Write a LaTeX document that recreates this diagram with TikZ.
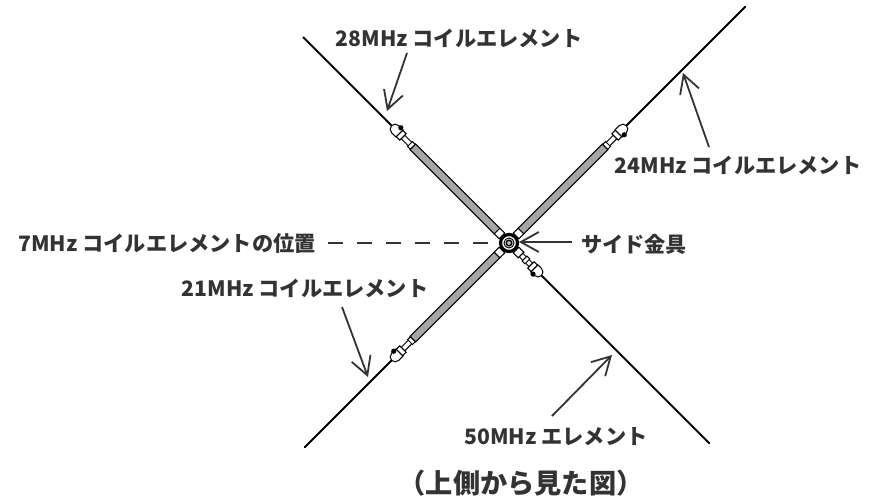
\documentclass[tikz,border=0pt]{standalone}
\usepackage{fontspec}
\setmainfont{Noto Sans CJK JP}
\usetikzlibrary{arrows.meta}
\definecolor{inkgray}{HTML}{333333}
\definecolor{tubegray}{HTML}{A6A6A6}
\tikzset{
  label/.style={inner sep=0pt,text=inkgray,font=\bfseries\fontsize{10.6pt}{10.6pt}\selectfont},
  pointer/.style={draw=inkgray,line width=0.9pt,-{Straight Barb[length=9pt,width=10pt,line width=0.9pt]}},
  part/.style={draw=black,fill=white,line width=0.5pt}
}
\begin{document}
\begin{tikzpicture}[x=0.5pt,y=-0.5pt]
\useasboundingbox (0,0) rectangle (874,499);

\coordinate (hub) at (509,243);

% long arms
\foreach \ang/\len in {135/291,45/334,225/289} {
  \begin{scope}[shift={(hub)},rotate=\ang]
    \draw [line width=0.9pt,line cap=round] (160,0) -- (\len,0);
    \draw [part] (10,-4) rectangle (17,4);
    \draw [draw=black,fill=tubegray,line width=0.5pt] (17,-4) rectangle (136,4);
    \draw [part] (136,-2.5) rectangle (150,2.5);
    \draw [part] (136,-3.5) rectangle (140,3.5);
    \draw [part] (150,-4.5) rectangle (155,4.5);
    \draw [part] (155,-5) -- (161,-5) arc [start angle=-90,end angle=90,radius=5] -- (155,5) -- cycle;
    \fill (158,5) circle [radius=2.6];
  \end{scope}
}
% short arm
\begin{scope}[shift={(hub)},rotate=-45]
  \draw [line width=0.9pt,line cap=round] (45,0) -- (283,0);
  \draw [part] (10,-4) rectangle (17,4);
  \draw [part] (17,-2.5) rectangle (31,2.5);
  \draw [part] (22,-3.5) rectangle (26,3.5);
  \draw [part] (31,-4.5) rectangle (36,4.5);
  \draw [part] (36,-5) -- (41,-5) arc [start angle=-90,end angle=90,radius=5] -- (36,5) -- cycle;
  \fill (39,5) circle [radius=2.6];
\end{scope}

% side fitting
\draw [fill=white,line width=1.6pt] (hub) circle [radius=8.5];
\draw [line width=0.5pt,fill=white] (hub) circle [radius=5];
\draw [line width=0.7pt,fill=black!25] (hub) circle [radius=2.8];

% labels
\node [label] (lab28) at (459,38) {28MHz コイルエレメント};
\node [label] (lab24) at (738,165) {24MHz コイルエレメント};
\node [label] (lab7) at (167,243) {7MHz コイルエレメントの位置};
\node [label] (labside) at (634,244) {サイド金具};
\node [label] (lab21) at (305,288) {21MHz コイルエレメント};
\node [label] (lab50) at (556,437) {50MHz エレメント};
\node [label,font=\bfseries\fontsize{13.6pt}{13.6pt}\selectfont] (labview) at (521,483) {（上側から見た図）};

\coordinate (tail28) at (407,53);
\coordinate (tip28) at (387,111);
\coordinate (tail24) at (709,147);
\coordinate (tip24) at (683,73);
\coordinate (tail21) at (342,307);
\coordinate (tip21) at (368,377);
\coordinate (tail50) at (552,416);
\coordinate (tip50) at (612,355);
\coordinate (tailside) at (572,242);
\coordinate (tipside) at (519,242);
\coordinate (dashstart) at (328,243);
\coordinate (dashend) at (492,243);

\draw [pointer] (tail28) -- (tip28);
\draw [pointer] (tail24) -- (tip24);
\draw [pointer] (tail21) -- (tip21);
\draw [pointer] (tail50) -- (tip50);
\draw [pointer] (tailside) -- (tipside);
\draw [draw=inkgray,line width=0.9pt,dash pattern=on 7.5pt off 7pt] (dashstart) -- (dashend);

\end{tikzpicture}
\end{document}
